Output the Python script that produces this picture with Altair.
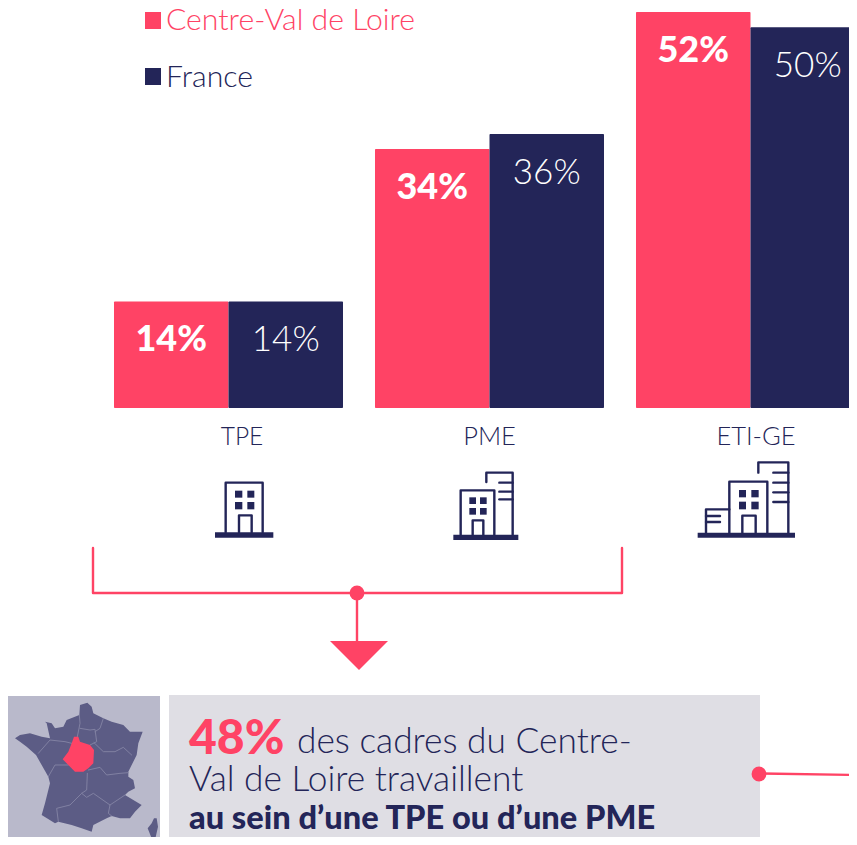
import altair as alt
import pandas as pd

# ---- data ----
categories = ["TPE", "PME", "ETI-GE"]
centre_values = [14, 34, 52]
france_values = [14, 36, 50]
series_names = ["Centre-Val de Loire", "France"]
RED = "#FF4365"
NAVY = "#232558"
FONT = "Lato"

rows = []
for c, a, b in zip(categories, centre_values, france_values):
    rows.append({"cat": c, "series": series_names[0], "v": a, "lab": f"{a}%"})
    rows.append({"cat": c, "series": series_names[1], "v": b, "lab": f"{b}%"})
df = pd.DataFrame(rows)

W, H = 841, 829
xs = alt.X("cat:N", axis=None, scale=alt.Scale(domain=categories, range=[106, 857], paddingInner=0.1226, paddingOuter=0))
xo = alt.XOffset("series:N", scale=alt.Scale(domain=series_names, paddingInner=0, paddingOuter=0))
# value scale: 0 at page y 408, 52 at page y 12, cropped at the chart bottom
ys = alt.Y("v:Q", axis=None, stack=None, scale=alt.Scale(domain=[-56.33, 52.53], nice=False, zero=False))

bars = alt.Chart(df).mark_bar(cornerRadius=1).encode(
    x=xs, xOffset=xo, y=ys,
    color=alt.Color("series:N", legend=None, scale=alt.Scale(domain=series_names, range=[RED, NAVY])),
)
lab_c = alt.Chart(df[df.series == series_names[0]]).mark_text(font=FONT, fontSize=36, fontWeight=900, color="white", dy=39).encode(
    x=xs, xOffset=xo, y=ys, text="lab:N")
lab_f = alt.Chart(df[df.series == series_names[1]]).mark_text(font=FONT, fontSize=35, fontWeight=300, color="white", dy=39).encode(
    x=xs, xOffset=xo, y=ys, text="lab:N")


def txt(s, x, y, size, color=NAVY, weight=400, align="left"):
    return alt.Chart().mark_text(font=FONT, fontSize=size, fontWeight=weight, color=color, align=align, baseline="alphabetic").encode(
        x=alt.value(x - 8), y=alt.value(y - 8), text=alt.value(s))


def box(x0, y0, x1, y1, color):
    return alt.Chart().mark_rect(color=color).encode(
        x=alt.value(x0 - 8), x2=alt.value(x1 - 8), y=alt.value(y0 - 8), y2=alt.value(y1 - 8))


def feat(kind, coords):
    return {"type": "Feature", "properties": {}, "geometry": {"type": kind, "coordinates": coords}}


def shapes(feats, fill=None, stroke=None, sw=1.0):
    kw = {"fill": fill if fill else "transparent", "filled": bool(fill)}
    if stroke:
        kw.update(stroke=stroke, strokeWidth=sw)
    else:
        kw.update(strokeWidth=0)
    return alt.Chart(alt.Data(values=feats)).mark_geoshape(strokeCap="round", strokeJoin="round", **kw).project(
        type="identity", scale=1, translate=[-8, -8])


def rect(x0, y0, x1, y1):
    return [[[x0, y0], [x1, y0], [x1, y1], [x0, y1], [x0, y0]]]


def z(points, ox, oy):
    return [[ox + a / 3, oy + b / 3] for a, b in points]


# ---- building icons ----
fills, lines = [], []
def win(rs, ox, oy):
    for a, b, c, d in rs:
        fills.append(feat("Polygon", rect(ox + a / 3, oy + b / 3, ox + c / 3, oy + d / 3)))
def ln(pts, ox, oy):
    lines.append(feat("LineString", z(pts, ox, oy)))

O2 = (190, 450)
win([(75, 247, 250, 263), (135, 122, 157, 143), (172, 122, 193, 143), (135, 156, 157, 178), (172, 156, 193, 178)], *O2)
ln([(107, 247), (107, 98), (218, 98), (218, 247)], *O2)
ln([(147, 247), (147, 196), (185, 196), (185, 247)], *O2)

win([(790, 254, 985, 270), (838, 142, 858, 162), (870, 142, 890, 162), (838, 174, 858, 194), (870, 174, 890, 194)], *O2)
ln([(812, 254), (812, 121), (913, 121), (913, 254)], *O2)
ln([(848, 254), (848, 211), (880, 211), (880, 254)], *O2)
ln([(889, 96), (889, 68), (968, 68), (968, 254)], *O2)
for t in (98, 125, 148):
    ln([(928, t), (968, t)], *O2)

O3 = (680, 450)
win([(53, 248, 345, 263), (177, 120, 198, 142), (214, 120, 236, 142), (177, 155, 198, 178), (214, 155, 236, 178)], *O3)
ln([(148, 248), (148, 95), (262, 95), (262, 248)], *O3)
ln([(187, 248), (187, 197), (227, 197), (227, 248)], *O3)
ln([(235, 68), (235, 37), (325, 37), (325, 248)], *O3)
for t in (68, 98, 127, 156):
    ln([(280, t), (325, t)], *O3)
ln([(78, 248), (78, 178), (148, 178)], *O3)
for t in (198, 216):
    ln([(78, t), (120, t)], *O3)

icons_f = shapes(fills, fill=NAVY)
icons_l = shapes(lines, stroke=NAVY, sw=2.4)

# ---- map of France ----
O4 = (0, 690)
france_pts = [(240,45),(262,38),(275,50),(280,70),(310,85),(335,95),(370,105),(390,125),(428,125),(415,160),(410,195),(395,225),(385,245),(385,260),(400,270),(405,295),(385,305),(375,315),(400,330),(425,345),(405,365),(390,385),(360,385),(335,378),(320,385),(280,405),(275,425),(245,415),(215,405),(175,395),(165,400),(125,375),(135,340),(150,280),(145,260),(125,225),(108,195),(80,170),(60,155),(45,145),(60,135),(90,130),(125,140),(150,145),(140,100),(135,95),(155,100),(165,115),(190,110),(200,90),(238,75),(240,45)]
corsica_pts = [(462,385),(470,385),(474,410),(465,450),(455,445),(443,415),(455,400),(462,385)]
centre_pts = [(222,140),(235,140),(240,155),(270,165),(282,180),(280,220),(265,235),(250,245),(225,245),(205,225),(188,208),(205,185),(215,160),(222,140)]
borders = [
    [(238,75),(240,100),(232,140)],
    [(240,115),(270,120),(285,118),(290,155),(270,165)],
    [(310,85),(300,115),(285,125)],
    [(282,158),(310,185),(345,185),(370,172),(395,195)],
    [(265,240),(300,232),(320,255),(360,250),(385,248)],
    [(115,190),(150,150),(195,155),(215,160)],
    [(145,260),(165,225),(205,225)],
    [(262,250),(260,300),(245,310),(210,345),(170,355),(175,395)],
    [(245,310),(260,322),(280,310),(330,345),(325,370),(335,378)],
    [(330,345),(375,315)],
]
map_base = shapes([feat("Polygon", [z(france_pts, *O4)]), feat("Polygon", [z(corsica_pts, *O4)])], fill="#5C5C85")
map_lines = shapes([feat("LineString", z(b, *O4)) for b in borders], stroke="#8585A5", sw=0.9)
map_centre = shapes([feat("Polygon", [z(centre_pts, *O4)])], fill=RED)

# ---- connectors ----
conn = shapes([
    feat("LineString", [[93, 548], [93, 593], [622, 593], [622, 548]]),
    feat("LineString", [[357, 593], [357, 642]]),
    feat("LineString", [[759, 773.5], [857, 775]]),
], stroke=RED, sw=2.4)
tri = shapes([feat("Polygon", [[[330, 641], [388, 641], [359, 670], [330, 641]]])], fill=RED)
dots = alt.layer(*[
    alt.Chart().mark_point(filled=True, color=RED, opacity=1, size=220, shape="circle").encode(x=alt.value(x - 8), y=alt.value(y - 8))
    for x, y in [(357, 593), (759, 774)]
])

chart = alt.layer(
    bars, lab_c, lab_f,
    box(145, 12, 161, 29, RED), box(145, 68, 161, 85, NAVY),
    txt("Centre-Val de Loire", 166, 29.5, 30.2, RED, 300),
    txt("France", 166, 86.5, 30.2, NAVY, 300),
    txt("TPE", 242, 445, 24.5, NAVY, 300, align="center"),
    txt("PME", 489.5, 445, 25.5, NAVY, 300, align="center"),
    txt("ETI-GE", 756, 445, 25.5, NAVY, 300, align="center"),
    icons_f, icons_l,
    box(8, 696, 160, 845, "#B9B9CB"),
    box(169, 695, 760, 845, "#DFDEE4"),
    conn, tri, dots,
    map_base, map_lines, map_centre,
    txt("48%", 189, 754, 48, RED, 900),
    txt("des cadres du Centre-", 297, 753, 35.3, NAVY, 300),
    txt("Val de Loire travaillent", 189, 791, 35.3, NAVY, 300),
    txt("au sein d\u2019une TPE ou d\u2019une PME", 189, 829, 32.6, NAVY, 900),
).properties(width=W, height=H, padding=0, autosize=alt.AutoSizeParams(type="none")).configure_view(stroke=None)

chart.save("out.html", embed_options={"renderer": "svg", "actions": False})
